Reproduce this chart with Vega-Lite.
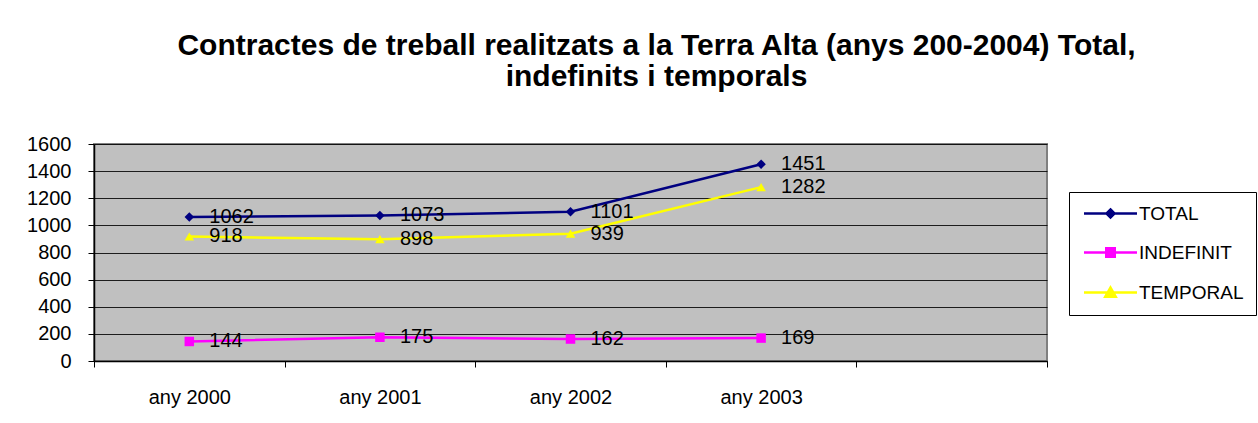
{
  "$schema": "https://vega.github.io/schema/vega-lite/v6.json",
  "autosize": "none",
  "width": 953,
  "height": 217,
  "padding": {"left": 94, "top": 144, "right": 211, "bottom": 62},
  "background": "white",
  "title": {
    "text": ["Contractes de treball realitzats a la Terra Alta (anys 200-2004) Total,", "indefinits i temporals"],
    "anchor": "middle",
    "frame": "group",
    "dx": 86,
    "offset": 42,
    "fontSize": 30,
    "lineHeight": 31,
    "font": "Liberation Sans",
    "fontWeight": "bold",
    "color": "black"
  },
  "config": {
    "font": "Liberation Sans",
    "view": {"fill": "#C0C0C0", "stroke": "#808080", "strokeWidth": 2},
    "axis": {"labelFont": "Liberation Sans", "labelFontSize": 20, "labelColor": "black", "domainColor": "black", "tickColor": "black", "gridColor": "black", "gridOpacity": 0.85, "title": null}
  },
  "data": {
    "values": [
      {"year": "any 2000", "series": "TOTAL", "value": 1062},
      {"year": "any 2001", "series": "TOTAL", "value": 1073},
      {"year": "any 2002", "series": "TOTAL", "value": 1101},
      {"year": "any 2003", "series": "TOTAL", "value": 1451},
      {"year": "any 2000", "series": "INDEFINIT", "value": 144},
      {"year": "any 2001", "series": "INDEFINIT", "value": 175},
      {"year": "any 2002", "series": "INDEFINIT", "value": 162},
      {"year": "any 2003", "series": "INDEFINIT", "value": 169},
      {"year": "any 2000", "series": "TEMPORAL", "value": 918},
      {"year": "any 2001", "series": "TEMPORAL", "value": 898},
      {"year": "any 2002", "series": "TEMPORAL", "value": 939},
      {"year": "any 2003", "series": "TEMPORAL", "value": 1282}
    ]
  },
  "encoding": {
    "x": {
      "field": "year", "type": "nominal", "bandPosition": 0.5,
      "scale": {"type": "band", "domain": ["any 2000", "any 2001", "any 2002", "any 2003", " "], "paddingInner": 0, "paddingOuter": 0},
      "axis": {"labelAngle": 0, "tickBand": "extent", "tickSize": 6, "labelPadding": 20, "grid": false, "domainWidth": 1.5}
    },
    "y": {
      "field": "value", "type": "quantitative",
      "scale": {"domain": [0, 1600], "nice": false},
      "axis": {"values": [0, 200, 400, 600, 800, 1000, 1200, 1400, 1600], "format": "d", "tickSize": 6, "labelPadding": 17, "grid": true, "domainWidth": 1.5}
    }
  },
  "layer": [
    {
      "mark": {"type": "line", "strokeWidth": 2.5},
      "encoding": {
        "color": {
          "field": "series", "type": "nominal",
          "scale": {"domain": ["TOTAL", "INDEFINIT", "TEMPORAL"], "range": ["#000080", "#FF00FF", "#FFFF00"]},
          "legend": {
            "title": null,
            "orient": "none",
            "legendX": 975,
            "legendY": 48,
            "strokeColor": "black",
            "fillColor": "white",
            "padding": 12,
            "symbolSize": 100,
            "symbolOffset": 20,
            "labelOffset": 19,
            "labelFontSize": 19,
            "labelFont": "Liberation Sans",
            "labelColor": "black",
            "rowPadding": 19,
            "encode": {
              "symbols": {
                "update": {
                  "shape": {"signal": "datum.value === 'TOTAL' ? 'M-5.3,0H5.3M0,-0.8L0.8,0L0,0.8L-0.8,0Z' : datum.value === 'INDEFINIT' ? 'M-5.3,0H5.3M-0.85,-0.85H0.85V0.85H-0.85Z' : 'M-5.3,0H5.3M0,-1L1.05,0.85H-1.05Z'"},
                  "fill": {"scale": "color", "field": "value"},
                  "stroke": {"scale": "color", "field": "value"},
                  "strokeWidth": {"value": 2.5},
                  "opacity": {"value": 1}
                }
              }
            }
          }
        }
      }
    },
    {
      "mark": {"type": "point", "filled": true, "size": 90, "opacity": 1},
      "encoding": {
        "color": {"field": "series", "type": "nominal", "legend": null},
        "shape": {
          "field": "series", "type": "nominal",
          "scale": {"domain": ["INDEFINIT", "TEMPORAL", "TOTAL"], "range": ["square", "triangle-up", "diamond"]},
          "legend": null
        }
      }
    },
    {
      "mark": {"type": "text", "align": "left", "baseline": "middle", "dx": 20, "fontSize": 20, "font": "Liberation Sans", "color": "black"},
      "encoding": {"text": {"field": "value", "type": "quantitative"}}
    }
  ]
}
